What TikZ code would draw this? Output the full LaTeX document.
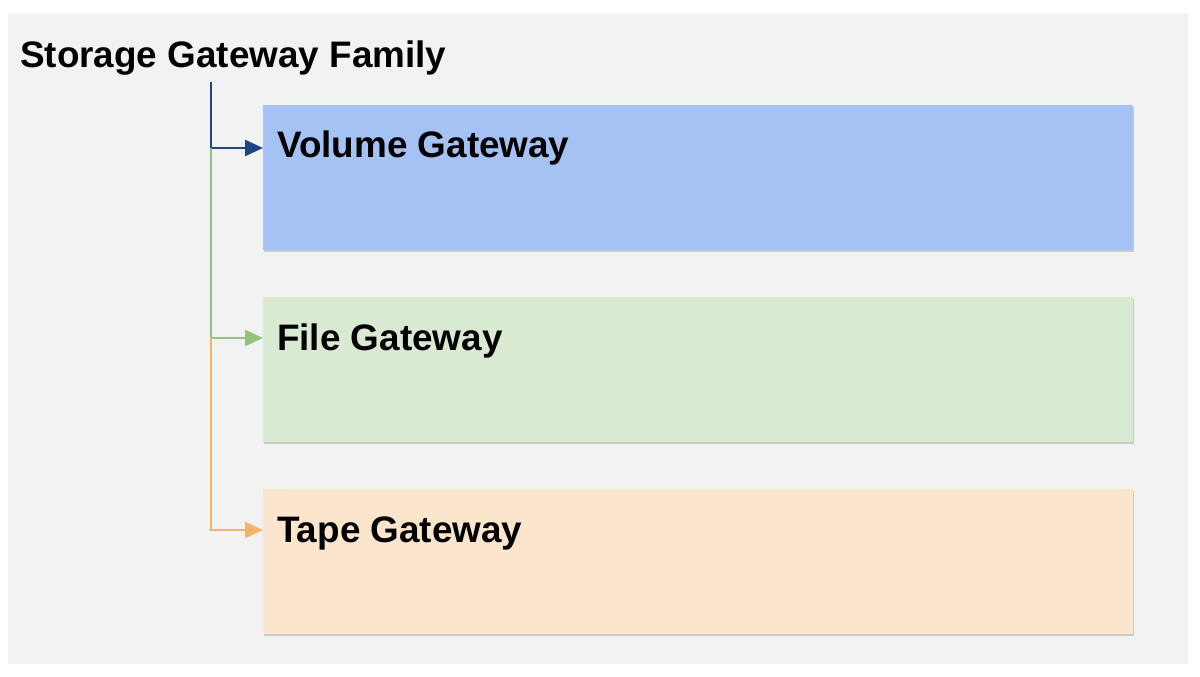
\documentclass[tikz,border=0pt]{standalone}
\usepackage{fontspec}
\setmainfont{Liberation Sans}
\usetikzlibrary{shadows,arrows.meta}
\definecolor{volfill}{HTML}{A4C2F4}
\definecolor{filefill}{HTML}{D9EAD3}
\definecolor{tapefill}{HTML}{FCE5CD}
\definecolor{volline}{HTML}{1C4587}
\definecolor{fileline}{HTML}{93C47D}
\definecolor{tapeline}{HTML}{F6B26B}
\tikzset{
  gw/.style={minimum width=870bp, minimum height=145bp, inner sep=0pt,
    drop shadow={shadow xshift=1bp, shadow yshift=-2bp, opacity=0.35}},
  lbl/.style={anchor=base west, inner sep=0pt, font=\fontsize{37}{40}\selectfont\bfseries},
  conn/.style={line width=2.5bp, -{Triangle[length=18bp,width=16bp]}}
}
\begin{document}
\begin{tikzpicture}[x=1bp,y=-1bp]
  \useasboundingbox (0,0) rectangle (1200,677);
  \fill[white] (0,0) rectangle (1200,677);
  \fill[black!5] (8,13) rectangle (1188,664);

  \node[lbl] (fam) at (20,68) {Storage Gateway Family};

  \node [gw, fill=volfill, anchor=north west] (vol) at (263,105) {};
  \node [gw, fill=filefill, anchor=north west] (file) at (263,297) {};
  \node [gw, fill=tapefill, anchor=north west] (tape) at (263,489) {};

  \node[lbl] at (277,158) {Volume Gateway};
  \node[lbl] at (277,350) {File Gateway};
  \node[lbl] at (277,542) {Tape Gateway};

  \coordinate (top) at (211,82);
  \coordinate (j1) at (211,148);
  \coordinate (j2) at (211,338);
  \coordinate (j3) at (211,530);

  % connectors
  \draw[conn, volline] (top) -- (j1) -- (vol.west |- j1);
  \draw[conn, fileline] (j1) -- (j2) -- (file.west |- j2);
  \draw[conn, tapeline] (j2) -- (j3) -- (tape.west |- j3);
\end{tikzpicture}
\end{document}
